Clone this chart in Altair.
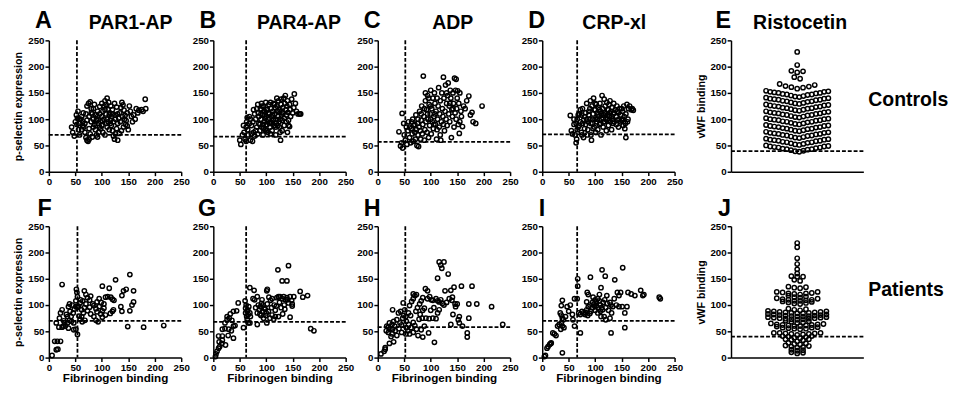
import altair as alt
import numpy as np
import pandas as pd

FONT = "Liberation Sans"

# ---------------- data ----------------
A_pts = [(43,85),(45,75),(48,68),(50,95),(52,108),(55,115),(57,100),(53,90),(56,80),(58,70),
(62,105),(64,95),(66,85),(68,75),(70,65),(72,60),(74,58),(76,62),(70,110),(72,125),(75,130),(78,133),
(80,120),(82,110),(84,100),(86,90),(88,80),(90,70),(92,66),(94,75),(96,85),(98,95),(100,105),(102,115),
(104,125),(106,135),(108,128),(110,140),(112,118),(114,108),(116,98),(118,88),(120,78),(122,68),(124,62),
(126,72),(128,82),(130,92),(132,102),(134,112),(136,122),(138,132),(140,127),(142,117),(144,107),(146,97),
(148,87),(150,80),(152,125),(154,115),(156,105),(158,95),(160,108),(163,100),(165,120),(168,112),(170,117),
(175,118),(178,115),(182,138),(183,120),(130,60),(133,73),(137,78),(141,85),(145,90),(128,123),(124,130),
(120,118),(117,125),(113,132),(100,130),(96,124),(92,115),(88,108),(84,120),(80,112),(76,105),(72,98),
(68,92),(64,88),(60,100),(65,112),(86,128),(90,100),(94,92),(98,82),(102,75),(106,70),(110,85),(114,80),
(118,105),(122,95),(126,100),(104,100),(108,110),(112,95),(96,110),(100,88),(80,95),(84,85),(76,82),
(78,72),(82,66),(88,95),(92,105),(106,118),(110,100),(115,112),(120,110),(125,108),(130,110),(135,95),
(139,105),(143,100),(148,112),(116,92),(109,92),(101,97),(62,80),(58,92),(54,102)]

B_pts = [(50,60),(52,52),(55,70),(57,88),(60,62),(62,58),(63,95),(64,103),(65,80),(66,70),(68,105),(70,60),
(72,88),(74,58),(75,95),(76,75),(78,68),(80,100),(82,85),(84,72),(85,112),(86,92),(88,78),(89,120),(90,100),
(91,130),(92,85),(93,108),(94,70),(95,125),(96,95),(97,115),(98,80),(99,132),(100,105),(101,90),(102,118),
(103,75),(104,100),(105,128),(106,110),(107,85),(108,95),(109,120),(110,105),(111,78),(112,115),(113,98),
(114,130),(115,88),(116,110),(117,122),(118,100),(119,92),(120,125),(121,115),(122,105),(123,135),(124,95),
(125,85),(126,118),(127,60),(128,128),(129,108),(130,98),(131,122),(132,112),(133,140),(134,102),(135,130),
(136,145),(137,118),(138,108),(139,125),(140,135),(141,113),(142,98),(144,128),(145,118),(146,105),(148,138),
(150,112),(152,122),(153,148),(155,130),(157,115),(160,110),(163,110),(165,110),(78,110),(82,120),(86,105),
(90,118),(94,90),(98,102),(102,95),(106,92),(110,92),(114,100),(118,85),(122,88),(126,100),(130,112),(134,88),
(138,95),(142,88),(144,86),(140,75),(108,72),(100,78),(95,82),(88,90),(80,78),(72,72),(68,92),(62,85),(58,75),
(70,100),(76,118),(84,128),(92,125),(100,118),(108,132),(116,128),(120,140),(128,138),(124,115),(112,108),
(104,112),(96,108),(90,110),(118,70),(130,78),(126,75)]

C_pts = [(43,49),(45,55),(47,45),(40,76),(46,111),(49,92),(50,70),(52,60),(54,85),(55,52),(57,78),(58,95),
(60,65),(62,55),(63,82),(65,72),(66,100),(67,58),(68,88),(70,75),(71,62),(72,108),(73,80),(74,50),(75,92),
(76,70),(77,48),(78,85),(79,115),(80,78),(81,62),(82,98),(83,125),(84,72),(85,90),(86,182),(87,105),(88,60),
(89,80),(90,135),(91,95),(92,118),(93,75),(94,145),(95,100),(96,65),(97,128),(98,88),(99,110),(100,155),
(101,72),(102,120),(103,95),(104,140),(105,82),(106,105),(107,150),(108,130),(109,90),(110,115),(111,62),
(112,140),(113,100),(114,125),(115,160),(116,85),(117,110),(118,135),(119,60),(120,95),(121,150),(122,120),
(123,105),(124,180),(125,140),(126,78),(127,115),(128,165),(129,100),(130,130),(131,88),(132,145),(133,169),
(134,110),(135,125),(136,95),(137,155),(138,140),(139,65),(140,118),(141,105),(142,150),(143,130),(144,85),
(145,178),(146,112),(147,155),(148,176),(149,120),(150,140),(151,154),(152,90),(153,130),(154,73),(155,150),
(157,115),(158,105),(160,86),(162,125),(165,120),(168,135),(172,144),(175,108),(178,113),(180,95),(185,92),
(197,125),(60,85),(64,95),(70,90),(76,100),(82,110),(88,120),(94,110),(100,100),(106,90),(112,80),(118,70),
(124,90),(130,150),(136,130),(142,120),(148,100),(155,95),(100,125),(108,110),(96,140),(90,150)]

D_pts = [(53,107),(55,78),(57,72),(60,90),(62,70),(64,55),(65,62),(66,100),(68,85),(70,110),(72,95),(74,75),
(76,120),(78,65),(80,105),(82,90),(84,130),(86,80),(88,115),(90,100),(91,135),(92,70),(93,60),(94,125),
(95,92),(96,110),(97,140),(98,85),(99,118),(100,100),(101,75),(102,128),(103,95),(104,112),(105,80),
(106,122),(107,105),(108,90),(109,130),(110,115),(111,70),(112,100),(113,145),(114,120),(115,85),(116,108),
(117,138),(118,95),(119,125),(120,110),(121,78),(122,132),(123,100),(124,118),(125,88),(126,128),(127,105),
(128,135),(129,95),(130,115),(131,80),(132,122),(133,100),(134,110),(135,130),(136,95),(138,118),(140,105),
(141,125),(142,98),(144,112),(145,100),(146,120),(148,108),(150,98),(152,115),(153,88),(154,125),(155,105),
(156,82),(157,92),(158,65),(160,128),(161,95),(163,120),(165,125),(168,118),(170,120),(172,117),(60,100),
(64,92),(68,108),(72,118),(76,92),(80,82),(84,100),(88,108),(92,92),(96,82),(100,118),(104,100),(108,118),
(112,110),(116,95),(120,100),(124,108),(128,112),(132,105),(136,112),(140,90),(144,85),(148,95),(152,100),
(90,120),(86,95),(82,112),(78,98),(74,108),(100,130),(110,92),(118,112),(126,98),(134,92),(142,115),(150,120),
(158,110),(162,100),(66,80),(70,88),(75,70),(85,70),(95,100),(105,108),(115,102),(125,118)]

F_pts = [(6,4),(14,15),(17,16),(11,31),(16,31),(22,31),(25,139),(14,66),(19,58),(25,58),(20,75),(22,85),
(25,91),(30,66),(35,78),(37,97),(39,102),(37,56),(47,53),(42,78),(46,85),(48,92),(51,97),(51,108),(52,130),
(53,124),(54,116),(54,44),(51,54),(56,98),(59,104),(62,91),(65,85),(62,78),(68,71),(67,127),(70,120),(73,114),
(77,109),(79,117),(83,102),(67,95),(73,89),(79,83),(85,78),(89,71),(93,68),(85,99),(89,93),(91,87),(95,97),
(98,83),(101,136),(114,132),(101,89),(104,94),(107,81),(101,77),(107,115),(111,116),(117,115),(120,111),
(123,109),(120,88),(122,91),(116,84),(126,148),(138,118),(141,127),(146,130),(136,97),(138,88),(149,59),
(153,158),(160,127),(160,106),(157,100),(153,89),(179,58),(217,61),(27,60),(31,60),(35,66),(39,71),(43,69),
(47,66),(60,110),(64,108),(70,102),(77,96),(91,106),(95,112),(99,105),(104,102),(54,96),(57,79),(59,73),
(63,68),(28,70),(33,82),(44,100),(40,88)]

G_pts = [(4,2),(5,7),(7,12),(10,18),(12,21),(16,27),(11,30),(17,33),(23,24),(10,41),(17,41),(28,42),(38,37),
(17,54),(22,55),(29,54),(34,51),(38,60),(41,61),(26,78),(32,83),(38,88),(44,89),(47,104),(22,66),(26,72),
(30,75),(35,71),(57,57),(60,108),(61,94),(61,85),(63,78),(64,72),(66,66),(65,91),(67,97),(69,133),(69,85),
(70,78),(69,66),(77,128),(83,116),(78,110),(75,112),(83,63),(83,85),(87,91),(90,80),(93,88),(96,94),(99,80),
(101,66),(102,102),(101,127),(102,130),(91,103),(89,97),(95,75),(105,115),(108,109),(111,112),(107,75),
(111,81),(114,73),(117,90),(119,98),(120,114),(123,116),(126,116),(130,112),(133,116),(136,110),(139,114),
(145,116),(148,109),(149,102),(149,98),(142,104),(134,100),(131,83),(123,78),(117,78),(122,167),(130,146),
(139,146),(142,175),(145,77),(164,126),(169,115),(178,118),(152,116),(184,55),(190,51),(62,100),(64,88),
(66,82),(80,95),(85,100),(92,110),(98,92),(104,88),(110,95),(115,100),(125,105),(128,95),(135,92),(140,110),
(100,85),(94,100),(88,83)]

H_pts = [(6,7),(12,12),(14,19),(14,16),(22,27),(30,30),(16,51),(20,48),(23,54),(27,45),(28,54),(33,51),(36,42),
(17,60),(22,66),(27,63),(30,69),(28,91),(39,85),(43,88),(36,72),(42,66),(47,75),(49,80),(48,104),(51,91),
(53,78),(54,69),(54,57),(57,51),(60,45),(45,48),(53,45),(60,99),(64,107),(67,112),(70,118),(73,120),(67,67),
(70,61),(73,54),(76,42),(67,48),(78,73),(80,82),(85,90),(88,94),(79,102),(82,108),(85,114),(90,131),(84,75),
(91,75),(97,74),(104,75),(110,74),(96,47),(107,29),(82,53),(85,39),(101,110),(104,109),(110,112),(113,108),
(116,106),(119,110),(122,103),(125,100),(116,91),(113,85),(113,151),(116,182),(119,176),(125,182),(121,170),
(133,159),(127,127),(138,128),(141,115),(144,134),(140,109),(146,102),(150,102),(147,97),(158,136),(154,78),
(154,66),(152,72),(172,75),(169,47),(169,39),(172,102),(187,102),(215,97),(236,63),(138,63),(178,136),
(94,112),(98,116),(94,127),(67,121),(20,58),(25,40),(32,60),(40,55),(45,62),(58,85),(62,80),(75,95),(72,88),
(88,60),(100,90),(106,95),(130,105),(135,112),(142,82),(160,60),(63,57),(58,63)]

I_pts = [(4,2),(6,4),(9,18),(11,21),(14,25),(16,27),(17,28),(20,47),(23,45),(26,42),(38,9),(29,60),(32,63),
(36,66),(38,60),(36,81),(34,85),(38,75),(44,78),(47,97),(53,100),(38,109),(36,99),(40,72),(41,57),(35,54),
(50,88),(57,82),(58,72),(61,60),(61,112),(66,112),(67,136),(67,150),(72,47),(69,85),(72,82),(75,88),(78,85),
(81,82),(84,91),(87,97),(84,106),(85,124),(87,120),(91,153),(99,98),(102,106),(105,112),(96,115),(108,120),
(111,133),(113,167),(119,155),(122,118),(123,103),(114,91),(117,78),(120,72),(128,75),(130,47),(133,97),
(136,112),(137,148),(142,124),(145,118),(148,124),(151,97),(152,171),(156,85),(160,97),(162,124),(168,121),
(175,118),(186,128),(190,118),(192,120),(221,115),(223,112),(156,57),(90,100),(95,95),(100,90),(105,95),
(110,100),(115,105),(120,95),(125,90),(100,110),(105,85),(110,88),(95,105),(118,110),(112,95),(102,98),
(92,88),(98,102),(108,108),(128,105),(130,100),(140,100),(145,97),(131,85),(111,78),(82,86),(86,80),(90,84)]

E_vals = [228, 203, 189, 191, 192, 177, 180, 158, 160, 161, 162, 163, 165, 167,
142,143,144,145,146,147,147,148,149,150,150,151,152,152,153,154,
129,130,131,132,133,134,134,135,136,137,137,138,139,139,140,141,
116,117,118,119,120,121,121,122,123,124,124,125,126,126,127,128,
103,104,105,106,107,108,108,109,110,111,111,112,113,113,114,115,
90,91,92,93,94,95,95,96,97,98,98,99,100,100,101,102,
77,78,79,80,81,82,82,83,84,85,85,86,87,87,88,89,
64,65,66,67,68,69,69,70,71,72,72,73,74,74,75,76,
51,52,53,54,55,56,56,57,58,59,59,60,61,61,62,63,
38,39,40,41,42,43,43,44,45,46,46,47,48,48,49,50]

J_vals = [8,9,10, 13,14,15, 19,20,21,22,23, 25,26,27,28, 31,33,34,35,35, 37,38,39,40,41,41,
43,44,45,46,47,47,46,45,47, 54,55,55,56,57,57,58,59, 60,60,61,61,62,62,63,63,64,65,
66,67,68,69,70, 72,73,73,74,74,75,75,76,76,77,77, 78,78,79,79,80,80,81,81,82,82,83,
84,84,85,85,86,86,87,87,88,88,89, 90,91,92,93, 102,103,104,105,106,107,
108,108,109,110,110,111,112,113, 114,115,116,118, 120,121,122,122,123,124,125,125,
132,133,134,135, 146,148, 154,154,155, 160, 168, 178, 189, 210, 218]

# thresholds (dashed cut-offs): (fibrinogen, p-selectin)
thr = {"A": (53, 70), "B": (62, 67), "C": (52, 57), "D": (66, 71),
       "F": (54, 70), "G": (62, 68), "H": (52, 58), "I": (66, 70)}
thr_vwf = {"E": 39, "J": 40}

ticks = [0, 50, 100, 150, 200, 250]
W, H = 136, 135
DASH = [4, 2]
PT_SIZE, PT_STROKE = 20, 1.5
NAME_SIZE = 20


def scatter_panel(pts, key, name=None, name_dx=0, ytitle=None, xtitle=None, letter_y=-13):
    df = pd.DataFrame(pts, columns=["fib", "psel"])
    vx, hy = thr[key]
    xe = alt.X("fib:Q", scale=alt.Scale(domain=[0, 250], nice=False),
               axis=alt.Axis(values=ticks, titleFontSize=12, titlePadding=1), title=xtitle)
    ye = alt.Y("psel:Q", scale=alt.Scale(domain=[0, 250], nice=False),
               axis=alt.Axis(values=ticks, titleFontSize=11, titlePadding=4), title=ytitle)
    pts_l = alt.Chart(df).mark_point(shape="circle", filled=False, color="black",
                                     size=PT_SIZE, strokeWidth=PT_STROKE, opacity=1).encode(x=xe, y=ye)
    vr = alt.Chart(pd.DataFrame({"fib": [vx]})).mark_rule(
        color="black", strokeDash=DASH, strokeWidth=1.8).encode(x=xe)
    hr = alt.Chart(pd.DataFrame({"psel": [hy]})).mark_rule(
        color="black", strokeDash=DASH, strokeWidth=1.8).encode(y=ye)
    layers = [pts_l, vr, hr]
    lt = alt.Chart(pd.DataFrame({"t": [key]})).mark_text(
        align="right", baseline="alphabetic", fontSize=24, fontWeight="bold",
        font=FONT, color="black").encode(text="t:N", x=alt.value(3), y=alt.value(letter_y))
    layers.append(lt)
    if name:
        nt = alt.Chart(pd.DataFrame({"t": [name]})).mark_text(
            align="center", baseline="alphabetic", fontSize=NAME_SIZE, fontWeight="bold",
            font=FONT, color="black").encode(text="t:N", x=alt.value(name_dx), y=alt.value(-12))
        layers.append(nt)
    return alt.layer(*layers).properties(width=W, height=H)


def swarm(vals, bin_size, bin_off, step, max_half):
    df = pd.DataFrame({"vwf": vals})
    df["bin"] = np.floor((df["vwf"] - bin_off) / bin_size)
    rows = []
    for _, g in df.groupby("bin"):
        g = g.sort_values("vwf", kind="stable")
        n = len(g)
        s = step if n <= 1 else min(step, 2 * max_half / (n - 1))
        for k, v in enumerate(g["vwf"]):
            if n % 2 == 1:
                m = (k + 1) // 2
                pos = 0 if k == 0 else (m if k % 2 == 1 else -m)
            else:
                m = k // 2 + 0.5
                pos = m if k % 2 == 0 else -m
            rows.append({"off": pos * s, "vwf": v})
    return pd.DataFrame(rows)


def column_panel(vals, key, group, name=None, name_dx=0, bin_size=13, bin_off=37.5,
                 step=6, letter_y=-13, label_y=62):
    df = swarm(vals, bin_size, bin_off, step, 32)
    xe = alt.X("off:Q", scale=alt.Scale(domain=[-68, 68], nice=False),
               axis=alt.Axis(ticks=False, labels=False, domain=True), title=None)
    ye = alt.Y("vwf:Q", scale=alt.Scale(domain=[0, 250], nice=False),
               axis=alt.Axis(values=ticks, titleFontSize=11, titlePadding=4), title="vWF binding")
    pts_l = alt.Chart(df).mark_point(shape="circle", filled=False, color="black",
                                     size=PT_SIZE, strokeWidth=PT_STROKE, opacity=1).encode(x=xe, y=ye)
    hr = alt.Chart(pd.DataFrame({"vwf": [thr_vwf[key]]})).mark_rule(
        color="black", strokeDash=DASH, strokeWidth=1.8).encode(y=ye)
    layers = [pts_l, hr]
    lt = alt.Chart(pd.DataFrame({"t": [key]})).mark_text(
        align="right", baseline="alphabetic", fontSize=24, fontWeight="bold",
        font=FONT, color="black").encode(text="t:N", x=alt.value(0), y=alt.value(letter_y))
    layers.append(lt)
    if name:
        nt = alt.Chart(pd.DataFrame({"t": [name]})).mark_text(
            align="center", baseline="alphabetic", fontSize=NAME_SIZE, fontWeight="bold",
            font=FONT, color="black").encode(text="t:N", x=alt.value(name_dx), y=alt.value(-12))
        layers.append(nt)
    gt = alt.Chart(pd.DataFrame({"t": [group]})).mark_text(
        align="left", baseline="middle", fontSize=20, fontWeight="bold",
        font=FONT, color="black").encode(text="t:N", x=alt.value(141), y=alt.value(label_y))
    layers.append(gt)
    return alt.layer(*layers).properties(width=W, height=H)


pA = scatter_panel(A_pts, "A", "PAR1-AP", 84, ytitle="p-selectin expression")
pB = scatter_panel(B_pts, "B", "PAR4-AP", 88)
pC = scatter_panel(C_pts, "C", "ADP", 77)
pD = scatter_panel(D_pts, "D", "CRP-xl", 74)
pE = column_panel(E_vals, "E", "Controls", "Ristocetin", 71, label_y=61)

pF = scatter_panel(F_pts, "F", ytitle="p-selectin expression", xtitle="Fibrinogen binding", letter_y=-11)
pG = scatter_panel(G_pts, "G", xtitle="Fibrinogen binding", letter_y=-11)
pH = scatter_panel(H_pts, "H", xtitle="Fibrinogen binding", letter_y=-11)
pI = scatter_panel(I_pts, "I", xtitle="Fibrinogen binding", letter_y=-11)
pJ = column_panel(J_vals, "J", "Patients", bin_size=6, bin_off=0, step=6, letter_y=-11, label_y=66)

row1 = alt.hconcat(alt.hconcat(pA, pB, pC, pD, spacing=2), pE, spacing=12)
row2 = alt.hconcat(alt.hconcat(pF, pG, pH, pI, spacing=2), pJ, spacing=12)

chart = alt.vconcat(row1, row2, spacing=11).properties(
    padding={"left": 5, "top": -4, "right": 0, "bottom": 0}
).configure_view(strokeWidth=0).configure_axis(
    domainColor="black", domainWidth=1.5, tickColor="black", tickWidth=1.5, tickSize=4,
    labelFont=FONT, labelFontSize=10, labelFontWeight="bold", labelColor="black",
    titleFont=FONT, titleFontWeight="bold", titleColor="black", grid=False,
    labelFlush=False, labelPadding=1, labelOverlap=False
)

chart.save("out.html", embed_options={"renderer": "svg", "actions": False})
